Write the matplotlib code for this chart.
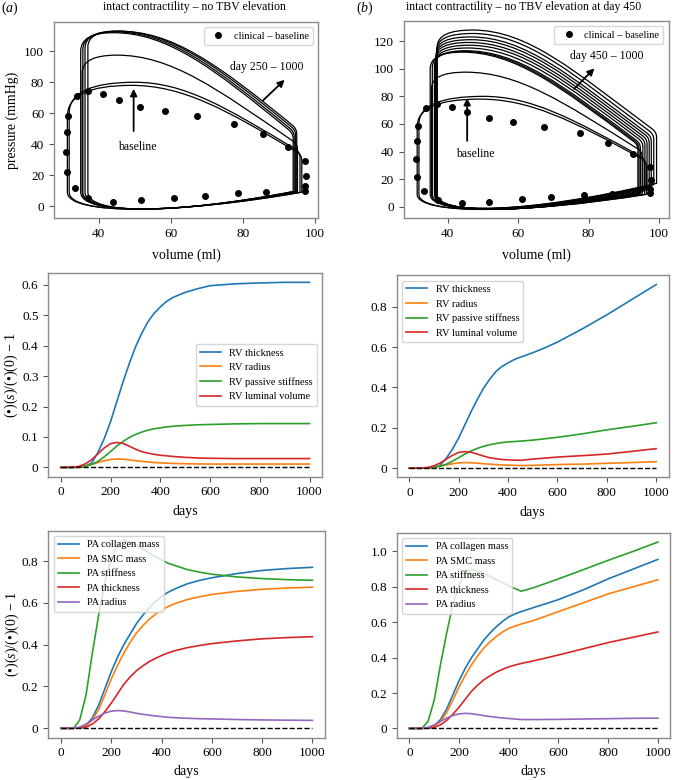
import matplotlib
matplotlib.use('Agg')
import matplotlib.pyplot as plt
from matplotlib.path import Path
from matplotlib.patches import PathPatch
from matplotlib.ticker import FuncFormatter, MultipleLocator

plt.rcParams['font.family'] = ['Liberation Serif', 'DejaVu Serif']
plt.rcParams['mathtext.fontset'] = 'custom'
plt.rcParams['mathtext.rm'] = 'Liberation Serif'
plt.rcParams['mathtext.it'] = 'Liberation Serif:italic'

# ---- clinical baseline PV points (same in both panels) ----
clin_v = [30.9, 31.2, 31.6, 31.2, 33.3, 33.9, 36.9, 37.1, 41.1, 43.9, 45.5, 51.6, 51.8,
          58.4, 61.0, 67.3, 69.4, 77.5, 78.8, 85.5, 86.5, 92.6, 97.4, 97.6, 97.4, 97.4]
clin_p = [34.8, 47.7, 58.5, 21.9, 11.6, 71.2, 74.2, 5.2, 72.1, 3.0, 68.8, 64.3, 3.7,
          61.7, 5.4, 58.1, 6.9, 53.2, 8.4, 46.3, 9.0, 38.1, 29.0, 19.4, 12.9, 9.7]

# ---- simulated PV loops, one entry per loop ----
# esv: left wall volume, edv: right wall volume, p_lt: top of left wall,
# v_pk/p_pk: peak pressure, p_es: top-right corner, slope: descent, p_ed: end-diastolic
a_esv = [31.3, 31.8, 35.4, 35.0, 35.6, 36.2, 37.0]
a_edv = [96.4, 95.9, 95.2, 94.0, 94.3, 94.7, 95.0]
a_p_lt = [58, 60, 86, 100, 101, 102, 103]
a_v_pk = [49, 50, 45, 44, 44.5, 45, 45.5]
a_p_pk = [78, 80, 97.5, 112, 112.5, 113, 113]
a_p_es = [33, 35, 40, 47, 48, 49, 50]
a_slope = [1.4, 1.4, 1.6, 1.9, 1.9, 1.9, 1.9]
a_p_ed = [9, 9, 9.5, 9.5, 9.5, 9.5, 9.5]

b_esv = [31.3, 31.8, 35.4, 35.0, 35.6, 36.2, 36.4, 36.5, 36.6, 36.7, 36.8, 36.9, 37.0]
b_edv = [96.4, 95.9, 95.2, 94.0, 94.3, 94.7, 95.4, 96.0, 96.6, 97.2, 97.8, 98.5, 99.3]
b_p_lt = [58, 60, 86, 100, 101, 102, 104, 106, 108, 110, 112, 114, 116]
b_v_pk = [49, 50, 45, 44, 44.5, 45, 45.5, 46, 46, 46.5, 46.5, 47, 47]
b_p_pk = [78, 80, 97.5, 112, 112.5, 113, 115, 117, 119, 121, 123, 125.5, 128]
b_p_es = [33, 35, 40, 45, 45.5, 46, 47, 48, 49, 50, 51, 52.5, 54]
b_slope = [1.4, 1.4, 1.6, 1.9, 1.9, 1.9, 1.9, 1.9, 1.9, 1.9, 1.9, 1.9, 1.9]
b_p_ed = [9, 9, 9.5, 9.5, 9.5, 10, 11, 12, 13, 14, 15, 16, 17]

# ---- growth & remodeling time courses ----
days = [0, 25, 50, 75, 100, 125, 150, 175, 200, 225, 250, 275, 300, 325, 350, 375, 400, 425, 450,
        500, 550, 600, 700, 800, 900, 1000]

rv_a_thick = [0, 0, 0, 0.001, 0.004, 0.015, 0.05, 0.095, 0.15, 0.215, 0.28, 0.34, 0.395, 0.44, 0.478, 0.506,
              0.527, 0.545, 0.558, 0.575, 0.587, 0.597, 0.603, 0.606, 0.608, 0.608]
rv_a_radius = [0, 0, 0, 0.001, 0.004, 0.01, 0.016, 0.022, 0.026, 0.028, 0.027, 0.025, 0.022, 0.02, 0.018,
               0.016, 0.015, 0.014, 0.013, 0.012, 0.0115, 0.011, 0.011, 0.011, 0.011, 0.011]
rv_a_stiff = [0, 0, 0, 0.001, 0.004, 0.01, 0.02, 0.035, 0.052, 0.07, 0.085, 0.098, 0.108, 0.116, 0.122,
              0.127, 0.13, 0.133, 0.135, 0.138, 0.14, 0.141, 0.143, 0.144, 0.144, 0.144]
rv_a_lumen = [0, 0, 0.001, 0.004, 0.012, 0.026, 0.045, 0.064, 0.078, 0.082, 0.079, 0.07, 0.06, 0.052, 0.047,
              0.043, 0.04, 0.038, 0.036, 0.033, 0.031, 0.03, 0.029, 0.029, 0.029, 0.029]

rv_b_thick = [0, 0, 0, 0.001, 0.004, 0.015, 0.05, 0.095, 0.15, 0.215, 0.28, 0.34, 0.395, 0.44, 0.478, 0.504,
              0.522, 0.538, 0.55, 0.572, 0.597, 0.625, 0.69, 0.76, 0.835, 0.91]
rv_b_radius = [0, 0, 0, 0.001, 0.004, 0.01, 0.016, 0.022, 0.026, 0.028, 0.027, 0.025, 0.022, 0.02, 0.018,
               0.016, 0.015, 0.014, 0.013, 0.014, 0.016, 0.018, 0.02, 0.024, 0.028, 0.032]
rv_b_stiff = [0, 0, 0, 0.001, 0.004, 0.01, 0.02, 0.035, 0.052, 0.07, 0.085, 0.098, 0.108, 0.116, 0.122,
              0.127, 0.13, 0.132, 0.134, 0.139, 0.146, 0.153, 0.17, 0.19, 0.207, 0.225]
rv_b_lumen = [0, 0, 0.001, 0.004, 0.012, 0.026, 0.045, 0.064, 0.078, 0.082, 0.079, 0.07, 0.06, 0.052, 0.047,
              0.043, 0.041, 0.04, 0.039, 0.045, 0.05, 0.055, 0.062, 0.07, 0.083, 0.097]

pa_a_coll = [0, 0, 0, 0.003, 0.015, 0.05, 0.11, 0.19, 0.27, 0.34, 0.4, 0.45, 0.5, 0.54, 0.575, 0.605,
             0.63, 0.65, 0.665, 0.69, 0.707, 0.72, 0.74, 0.755, 0.764, 0.77]
pa_a_smc = [0, 0, 0, 0.003, 0.012, 0.04, 0.09, 0.16, 0.235, 0.3, 0.36, 0.41, 0.455, 0.49, 0.52, 0.545,
            0.565, 0.582, 0.595, 0.615, 0.629, 0.64, 0.655, 0.665, 0.671, 0.675]
pa_a_stiff = [0, 0, 0, 0.04, 0.16, 0.36, 0.54, 0.7, 0.81, 0.88, 0.9, 0.89, 0.875, 0.858, 0.84, 0.822,
              0.805, 0.79, 0.78, 0.76, 0.747, 0.737, 0.724, 0.716, 0.711, 0.708]
pa_a_thick = [0, 0, 0, 0.001, 0.006, 0.02, 0.045, 0.08, 0.12, 0.165, 0.21, 0.245, 0.275, 0.298, 0.318, 0.334,
              0.348, 0.36, 0.37, 0.385, 0.396, 0.405, 0.418, 0.428, 0.434, 0.438]
pa_a_radius = [0, 0, 0.001, 0.006, 0.02, 0.04, 0.058, 0.073, 0.082, 0.085, 0.083, 0.078, 0.072, 0.067, 0.063,
               0.059, 0.056, 0.053, 0.051, 0.048, 0.046, 0.045, 0.042, 0.04, 0.039, 0.038]

pa_b_coll = [0, 0, 0, 0.003, 0.015, 0.05, 0.11, 0.19, 0.27, 0.34, 0.4, 0.45, 0.5, 0.54, 0.575, 0.605,
             0.63, 0.647, 0.66, 0.683, 0.705, 0.728, 0.783, 0.845, 0.9, 0.955]
pa_b_smc = [0, 0, 0, 0.003, 0.012, 0.04, 0.09, 0.16, 0.235, 0.3, 0.36, 0.41, 0.455, 0.49, 0.52, 0.545,
            0.565, 0.578, 0.59, 0.61, 0.635, 0.66, 0.71, 0.76, 0.8, 0.84]
pa_b_stiff = [0, 0, 0, 0.04, 0.16, 0.36, 0.54, 0.7, 0.81, 0.88, 0.9, 0.89, 0.875, 0.858, 0.84, 0.822,
              0.805, 0.79, 0.775, 0.795, 0.82, 0.845, 0.897, 0.95, 1.0, 1.053]
pa_b_thick = [0, 0, 0, 0.001, 0.006, 0.02, 0.045, 0.08, 0.12, 0.165, 0.21, 0.245, 0.275, 0.298, 0.318, 0.334,
              0.348, 0.358, 0.367, 0.382, 0.398, 0.415, 0.45, 0.485, 0.515, 0.545]
pa_b_radius = [0, 0, 0.001, 0.006, 0.02, 0.04, 0.058, 0.073, 0.082, 0.085, 0.083, 0.078, 0.072, 0.067, 0.063,
               0.059, 0.056, 0.053, 0.05, 0.05, 0.0505, 0.051, 0.053, 0.055, 0.057, 0.058]

rv_labels = ['RV thickness', 'RV radius', 'RV passive stiffness', 'RV luminal volume']
pa_labels = ['PA collagen mass', 'PA SMC mass', 'PA stiffness', 'PA thickness', 'PA radius']

SPINE = '#8a8a8a'
ylab_ratio = '(•)($s$)/(•)(0) − 1'


def pv_loop(esv, edv, p_lt, v_pk, p_pk, p_es, s, p_ed):
    # rounded PV loop outline, bezier pieces drawn by matplotlib
    w = edv - v_pk
    r = 1.2
    verts = [(esv, 9.0), (esv, p_lt),
             (esv, p_pk), (v_pk, p_pk),
             (v_pk + 0.3 * w, p_pk), (edv - 0.45 * w, p_es + 0.45 * w * s), (edv - r, p_es + r * s),
             (edv, p_es), (edv, p_es - 3.5),
             (edv, p_ed),
             (62, -5), (esv, -6), (esv, 9.0)]
    codes = [Path.MOVETO, Path.LINETO, Path.CURVE3, Path.CURVE3,
             Path.CURVE4, Path.CURVE4, Path.CURVE4, Path.CURVE3, Path.CURVE3,
             Path.LINETO, Path.CURVE4, Path.CURVE4, Path.CURVE4]
    return Path(verts, codes)


def style(ax):
    for sp in ax.spines.values():
        sp.set_color(SPINE)
        sp.set_linewidth(1.0)
    ax.tick_params(labelsize=9.5, color='#555555', length=3.5)


def dec_fmt(v, _):
    return '0' if abs(v) < 1e-9 else f'{v:.1f}'


fig = plt.figure(figsize=(6.74, 7.8), dpi=100)

ax_pv_a = fig.add_axes([0.080, 0.7205, 0.392, 0.251])
ax_pv_b = fig.add_axes([0.599, 0.720, 0.393, 0.253])
ax_rv_a = fig.add_axes([0.0717, 0.3889, 0.406, 0.261])
ax_rv_b = fig.add_axes([0.589, 0.388, 0.403, 0.259])
ax_pa_a = fig.add_axes([0.0717, 0.0542, 0.4105, 0.2654])
ax_pa_b = fig.add_axes([0.589, 0.0542, 0.4055, 0.2628])

# PV loop panels
pv_sets = [
    (ax_pv_a, a_esv, a_edv, a_p_lt, a_v_pk, a_p_pk, a_p_es, a_slope, a_p_ed),
    (ax_pv_b, b_esv, b_edv, b_p_lt, b_v_pk, b_p_pk, b_p_es, b_slope, b_p_ed),
]
for ax, esv, edv, plt_, vpk, ppk, pes, sl, ped in pv_sets:
    for i in range(len(esv)):
        path = pv_loop(esv[i], edv[i], plt_[i], vpk[i], ppk[i], pes[i], sl[i], ped[i])
        ax.add_patch(PathPatch(path, fill=False, edgecolor='black', lw=0.9))
    ax.plot(clin_v, clin_p, 'o', color='black', ms=4, zorder=5, label='clinical – baseline')
    ax.autoscale_view()
    ax.yaxis.set_major_locator(MultipleLocator(20))
    ax.legend(loc='upper right', fontsize=7.5, handletextpad=0.5)
    ax.set_xlabel('volume (ml)', fontsize=10, labelpad=6)
    style(ax)

ax_pv_a.set_ylabel('pressure (mmHg)', fontsize=10)

arrow_kw = dict(arrowstyle='-|>', color='black', lw=1.3, mutation_scale=10)
ax_pv_a.annotate('', xy=(49.7, 77.5), xytext=(49.7, 46.7), arrowprops=arrow_kw)
ax_pv_a.text(50.8, 38.1, 'baseline', fontsize=8.5, ha='center', va='center')
ax_pv_a.annotate('', xy=(92.2, 82.8), xytext=(85.1, 67.1), arrowprops=arrow_kw)
ax_pv_a.text(86.6, 89.7, 'day 250 – 1000', fontsize=8.5, ha='center', va='center')

ax_pv_b.annotate('', xy=(45.5, 80.8), xytext=(45.5, 45.8), arrowprops=arrow_kw)
ax_pv_b.text(47.8, 38.1, 'baseline', fontsize=8.5, ha='center', va='center')
ax_pv_b.annotate('', xy=(82.2, 101.7), xytext=(75.3, 83.9), arrowprops=arrow_kw)
ax_pv_b.text(85.2, 109, 'day 450 – 1000', fontsize=8.5, ha='center', va='center')

# RV panels
for ax, series, loc in [(ax_rv_a, [rv_a_thick, rv_a_radius, rv_a_stiff, rv_a_lumen], 'center right'),
                        (ax_rv_b, [rv_b_thick, rv_b_radius, rv_b_stiff, rv_b_lumen], 'upper left')]:
    for k, vals in enumerate(series):
        ax.plot(days, vals, color=f'C{k}', lw=1.2, label=rv_labels[k])
    ax.plot([0, 1000], [0, 0], 'k--', lw=1.0)
    ax.legend(loc=loc, fontsize=7.5)
    ax.set_xlabel('days', fontsize=10, labelpad=5)
    ax.yaxis.set_major_formatter(FuncFormatter(dec_fmt))
    style(ax)

# PA panels
for ax, series in [(ax_pa_a, [pa_a_coll, pa_a_smc, pa_a_stiff, pa_a_thick, pa_a_radius]),
                   (ax_pa_b, [pa_b_coll, pa_b_smc, pa_b_stiff, pa_b_thick, pa_b_radius])]:
    for k, vals in enumerate(series):
        ax.plot(days, vals, color=f'C{k}', lw=1.2, label=pa_labels[k])
    ax.plot([0, 1000], [0, 0], 'k--', lw=1.0)
    ax.legend(loc='upper left', fontsize=7.5)
    ax.set_xlabel('days', fontsize=10, labelpad=4)
    ax.yaxis.set_major_formatter(FuncFormatter(dec_fmt))
    style(ax)

ax_rv_a.set_ylabel(ylab_ratio, fontsize=10, labelpad=1)
ax_pa_a.set_ylabel(ylab_ratio, fontsize=10, labelpad=1)

fig.text(0.015, 0.989, '($a$)', fontsize=10, ha='center', va='center')
fig.text(0.288, 0.991, 'intact contractility – no TBV elevation', fontsize=8.5, ha='center', va='center')
fig.text(0.541, 0.989, '($b$)', fontsize=10, ha='center', va='center')
fig.text(0.777, 0.991, 'intact contractility – no TBV elevation at day 450', fontsize=8.5,
         ha='center', va='center')

fig.savefig('out.png', dpi=100)
